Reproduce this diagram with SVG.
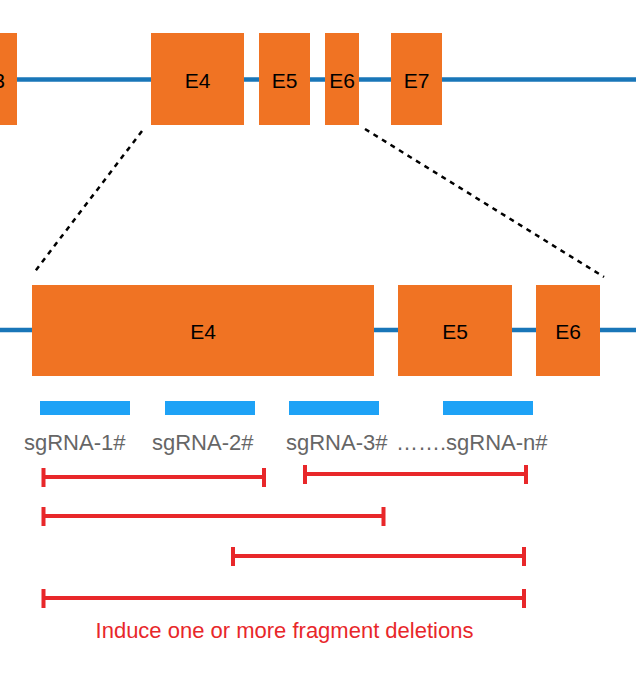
<svg xmlns="http://www.w3.org/2000/svg" width="636" height="678" viewBox="0 0 636 678">
<style>
.intron{stroke:#1976b8;stroke-width:4.5;fill:none}
.exon{fill:#f07323}
.el{font-family:"Liberation Sans",Arial,sans-serif;font-size:21px;fill:#000;text-anchor:middle}
.sg{fill:#1ea2f6}
.sgl{font-family:"Liberation Sans",Arial,sans-serif;font-size:22px;fill:#666}
.dot{stroke:#000;stroke-width:2.5;stroke-dasharray:5 5;fill:none}
.del{stroke:#e8272a;stroke-width:4;fill:none}
.cap{font-family:"Liberation Sans",Arial,sans-serif;font-size:22px;fill:#e8272a;text-anchor:middle}
</style>
<rect width="636" height="678" fill="#fff"/>
<g id="introns">
<line class="intron" x1="0" y1="79.5" x2="636" y2="79.5"/>
<line class="intron" x1="0" y1="330" x2="636" y2="330"/>
</g>
<g id="top-E3"><rect class="exon" x="0" y="33" width="17" height="92"/><text class="el" x="-8" y="87.5">E3</text></g>
<g id="top-E4"><rect class="exon" x="151" y="33" width="93" height="92"/><text class="el" x="197.5" y="87.5">E4</text></g>
<g id="top-E5"><rect class="exon" x="259" y="33" width="51" height="92"/><text class="el" x="284.5" y="87.5">E5</text></g>
<g id="top-E6"><rect class="exon" x="325" y="33" width="34" height="92"/><text class="el" x="342" y="87.5">E6</text></g>
<g id="top-E7"><rect class="exon" x="391" y="33" width="51" height="92"/><text class="el" x="416.5" y="87.5">E7</text></g>
<g id="connectors">
<line class="dot" x1="142" y1="131" x2="33" y2="274"/>
<line class="dot" x1="365" y1="129" x2="604" y2="277"/>
</g>
<g id="bot-E4"><rect class="exon" x="32" y="285" width="342" height="91"/><text class="el" x="203" y="339">E4</text></g>
<g id="bot-E5"><rect class="exon" x="398" y="285" width="114" height="91"/><text class="el" x="455" y="339">E5</text></g>
<g id="bot-E6"><rect class="exon" x="536" y="285" width="64" height="91"/><text class="el" x="568" y="339">E6</text></g>
<g id="sgRNA-1"><rect class="sg" x="40" y="401" width="90" height="14"/><text class="sgl" x="24" y="450">sgRNA-1#</text></g>
<g id="sgRNA-2"><rect class="sg" x="165" y="401" width="90" height="14"/><text class="sgl" x="152" y="450">sgRNA-2#</text></g>
<g id="sgRNA-3"><rect class="sg" x="289" y="401" width="90" height="14"/><text class="sgl" x="286" y="450">sgRNA-3#</text></g>
<g id="sgRNA-n"><rect class="sg" x="443" y="401" width="90" height="14"/><text class="sgl" x="396" y="450">…….sgRNA-n#</text></g>
<g id="deletions">
<path class="del" d="M43.5 477H264M43.5 468V487M264 468V487"/>
<path class="del" d="M305 474H526M305 465V484M526 465V484"/>
<path class="del" d="M43.5 516H383.5M43.5 507V526M383.5 507V526"/>
<path class="del" d="M233 556H524M233 547V566M524 547V566"/>
<path class="del" d="M43.5 598H524M43.5 589V608M524 589V608"/>
</g>
<g id="caption"><text class="cap" x="284.5" y="638">Induce one or more fragment deletions</text></g>
</svg>
